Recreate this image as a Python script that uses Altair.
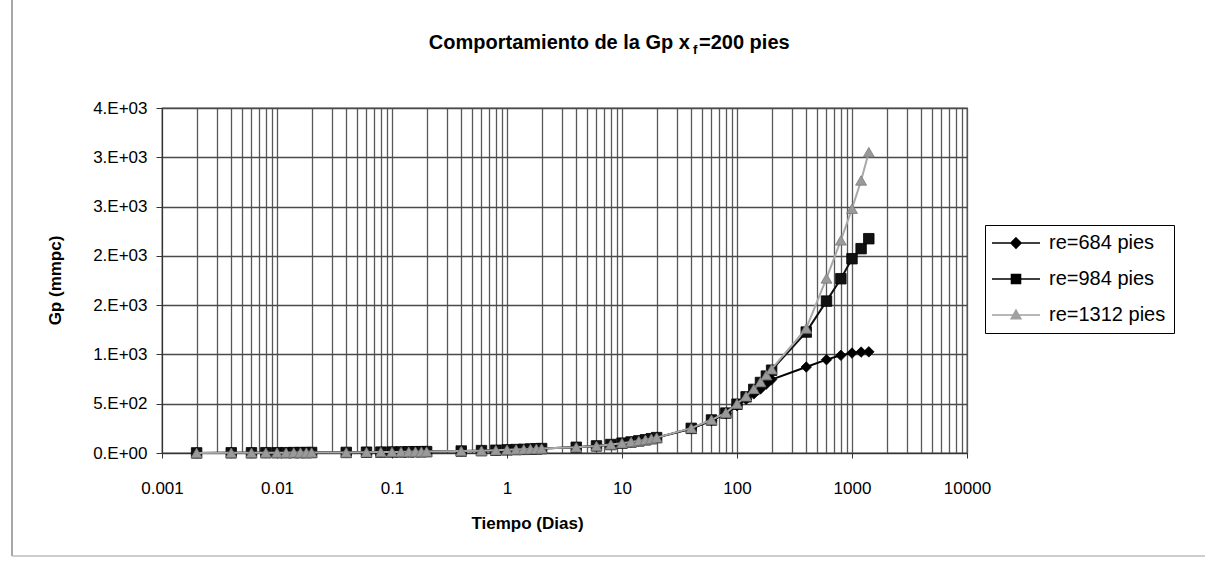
import json
import altair as alt
import pandas as pd

# ---------------- data ----------------
T = [0.002, 0.004, 0.006, 0.008, 0.01, 0.012, 0.014, 0.016, 0.018, 0.02,
     0.04, 0.06, 0.08, 0.1, 0.12, 0.14, 0.16, 0.18, 0.2,
     0.4, 0.6, 0.8, 1, 1.2, 1.4, 1.6, 1.8, 2,
     4, 6, 8, 10, 12, 14, 16, 18, 20,
     40, 60, 80, 100, 120, 140, 160, 180, 200,
     400, 600, 800, 1000, 1200, 1400]

GP_684 = [1, 2, 2, 3, 3, 3, 4, 4, 4, 5,
          6, 8, 9, 10, 11, 12, 13, 13, 14,
          20, 24, 28, 32, 35, 37, 40, 42, 45,
          58, 72, 86, 100, 112, 123, 134, 145, 156,
          245, 330, 400, 480, 545, 600, 650, 700, 745,
          872, 947, 991, 1014, 1024, 1026]

GP_984 = [1, 2, 2, 3, 3, 3, 4, 4, 4, 5,
          6, 8, 9, 10, 11, 12, 13, 13, 14,
          20, 24, 28, 32, 35, 37, 40, 42, 45,
          58, 72, 86, 100, 112, 123, 134, 145, 156,
          250, 335, 405, 495, 570, 645, 715, 780, 840,
          1227, 1541, 1768, 1971, 2073, 2174]

GP_1312 = [1, 2, 2, 3, 3, 3, 4, 4, 4, 5,
           6, 8, 9, 10, 11, 12, 13, 13, 14,
           20, 24, 28, 32, 35, 37, 40, 42, 45,
           58, 72, 86, 100, 112, 123, 134, 145, 156,
           252, 337, 408, 500, 575, 650, 720, 790, 850,
           1264, 1771, 2157, 2478, 2765, 3052]

SERIES = ["re=684 pies", "re=984 pies", "re=1312 pies"]

X_TICKS = [0.001, 0.01, 0.1, 1, 10, 100, 1000, 10000]
X_LABELS = ["0.001", "0.01", "0.1", "1", "10", "100", "1000", "10000"]
Y_TICKS = [0, 500, 1000, 1500, 2000, 2500, 3000, 3500]
Y_LABELS = ["0.E+00", "5.E+02", "1.E+03", "2.E+03", "2.E+03", "3.E+03", "3.E+03", "4.E+03"]

TITLE_MAIN = "Comportamiento de la Gp  x"
TITLE_SUB = "f"
TITLE_END = "=200 pies"
X_TITLE = "Tiempo (Dias)"
Y_TITLE = "Gp (mmpc)"

# ---------------- table ----------------
rows = []
for name, vals in zip(SERIES, [GP_684, GP_984, GP_1312]):
    for t, g in zip(T, vals):
        rows.append({"t": t, "gp": g, "serie": name})
df = pd.DataFrame(rows)

# minor log grid positions (1..9 x each decade)
GRID_X = []
for k in range(-3, 4):
    for m in range(1, 10):
        GRID_X.append(float(f"{m}e{k}"))
GRID_X.append(10000)
GRID_X = [X_TICKS[X_TICKS.index(v)] if v in X_TICKS else v for v in GRID_X]

FONT = "Liberation Sans"
W, H = 805, 345
PAD_L, PAD_T = 162, 108

xt = json.dumps(X_TICKS)
xl = json.dumps(X_LABELS)
yt = json.dumps(Y_TICKS)
yl = json.dumps(Y_LABELS)

x_axis = alt.Axis(
    values=GRID_X,
    labelExpr=f"indexof({xt}, datum.value) >= 0 ? {xl}[indexof({xt}, datum.value)] : ''",
    grid=True, gridColor="#585858", gridWidth=1.3,
    tickSize=5, tickColor="#333333",
    tickOpacity={"condition": {"test": f"indexof({xt}, datum.value) >= 0", "value": 1}, "value": 0},
    domainColor="#333333",
    labelFont=FONT, labelFontSize=17, labelColor="black", labelPadding=22,
    labelFlush=False, labelOverlap=False,
    title=X_TITLE, titleFont=FONT, titleFontSize=17, titleFontWeight="bold",
    titleColor="black", titleX=365, titleY=70, titleAlign="center", titleBaseline="middle",
)
y_axis = alt.Axis(
    values=Y_TICKS,
    labelExpr=f"{yl}[indexof({yt}, datum.value)]",
    grid=True, gridColor="#4a4a4a", gridWidth=1.3,
    tickSize=6, tickColor="#333333", domainColor="#333333",
    labelFont=FONT, labelFontSize=17, labelColor="black", labelPadding=9,
    labelFlush=False, labelOverlap=False,
    title=Y_TITLE, titleFont=FONT, titleFontSize=17, titleFontWeight="bold",
    titleColor="black", titleX=-107, titleY=172, titleAngle=270,
    titleAlign="center", titleBaseline="middle",
)

X = alt.X("t:Q", scale=alt.Scale(type="log", domain=[0.001, 10000], nice=False), axis=x_axis)
Y = alt.Y("gp:Q", scale=alt.Scale(domain=[0, 3500], nice=False, zero=True), axis=y_axis)

LINE_COLORS = ["#000000", "#111111", "#a8a8a8"]
MARK_COLORS = ["#000000", "#111111", "#9a9a9a"]
SHAPES = ["diamond", "square", "triangle-up"]
SIZES = [110, 110, 120]

layers = []
for name, lc, mc, shp, sz in zip(SERIES, LINE_COLORS, MARK_COLORS, SHAPES, SIZES):
    sub = alt.Chart(df).transform_filter(alt.datum.serie == name)
    layers.append(sub.mark_line(color=lc, strokeWidth=2).encode(x=X, y=Y))
    layers.append(sub.mark_point(shape=shp, filled=True, size=sz, color=mc, opacity=1,
                                 stroke="#000000" if shp != "triangle-up" else "#7a7a7a",
                                 strokeWidth=0.8).encode(x=X, y=Y))

# legend (line + marker symbols)
PATHS = [
    "M-4.8,0H4.8M0,-1L1,0L0,1L-1,0Z",
    "M-4.8,0H4.8M-0.9,-0.9H0.9V0.9H-0.9Z",
    "M-4.8,0H4.8M0,-0.95L0.95,0.75H-0.95Z",
]
leg = alt.Legend(
    title=None, orient="none", legendX=823, legendY=117,
    padding=8, strokeColor="#000000", fillColor="white",
    labelFont=FONT, labelFontSize=20, labelColor="black", labelLimit=300,
    symbolSize=100, symbolStrokeWidth=1.6, symbolOpacity=1,
    symbolOffset=13, labelOffset=23, rowPadding=16,
)
legend_layer = alt.Chart(df).mark_point(opacity=0, size=100).encode(
    x=X, y=Y,
    shape=alt.Shape("serie:N", scale=alt.Scale(domain=SERIES, range=PATHS), legend=leg),
    fill=alt.Fill("serie:N", scale=alt.Scale(domain=SERIES, range=["#000000", "#000000", "#a0a0a0"]), legend=leg),
    stroke=alt.Stroke("serie:N", scale=alt.Scale(domain=SERIES, range=["#000000", "#000000", "#a0a0a0"]), legend=leg),
)
layers.append(legend_layer)

# title with subscript
one = alt.Data(values=[{}])
X1 = 528
title_main = alt.Chart(one).mark_text(font=FONT, fontSize=20, fontWeight="bold", align="right",
                                      baseline="alphabetic", color="black").encode(
    x=alt.value(X1), y=alt.value(-59), text=alt.value(TITLE_MAIN))
title_sub = alt.Chart(one).mark_text(font=FONT, fontSize=13, fontWeight="bold", align="left",
                                     baseline="alphabetic", color="black").encode(
    x=alt.value(X1 + 3), y=alt.value(-54), text=alt.value(TITLE_SUB))
title_end = alt.Chart(one).mark_text(font=FONT, fontSize=20, fontWeight="bold", align="left",
                                     baseline="alphabetic", color="black").encode(
    x=alt.value(X1 + 9), y=alt.value(-59), text=alt.value(TITLE_END))

# chart-area frame (left and bottom edges)
frame_left = alt.Chart(one).mark_rule(color="#8a8a8a", strokeWidth=1.5).encode(
    x=alt.value(12 - PAD_L), y=alt.value(-PAD_T), y2=alt.value(556 - PAD_T))
frame_bottom = alt.Chart(one).mark_rule(color="#bdbdbd", strokeWidth=1.5).encode(
    x=alt.value(12 - PAD_L), x2=alt.value(1205 - PAD_L), y=alt.value(556 - PAD_T))

chart = alt.layer(frame_left, frame_bottom, *layers, title_main, title_sub, title_end).properties(
    width=W, height=H,
    autosize=alt.AutoSizeParams(type="none"),
    padding={"left": PAD_L, "top": PAD_T, "right": 1218 - PAD_L - W, "bottom": 564 - PAD_T - H},
    background="white",
).configure_view(stroke="#5a5a5a", strokeWidth=1.3)

chart.save("out.html", embed_options={"renderer": "svg", "actions": False})
